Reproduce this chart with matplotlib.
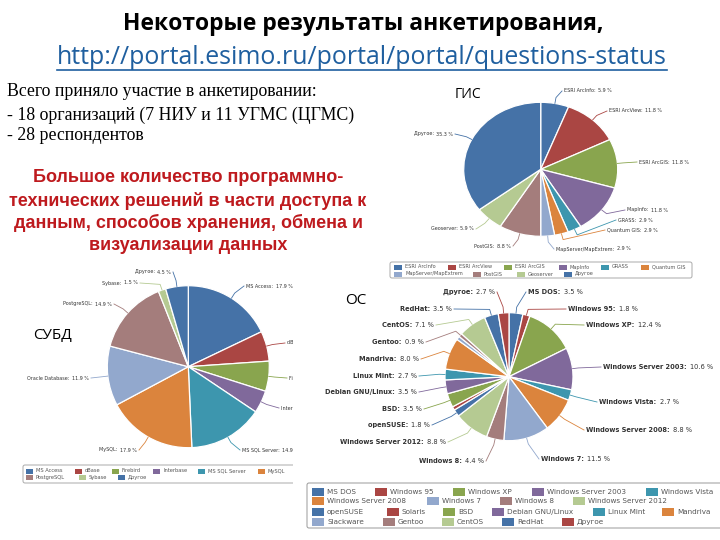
"""Survey results slide: three pie charts with legends and header text."""
import numpy as np
import matplotlib
matplotlib.use("Agg")
import matplotlib.pyplot as plt
from matplotlib.patches import FancyBboxPatch, Rectangle

COLORS = ["#4572A7", "#AA4643", "#89A54E", "#80699B", "#3D96AE",
          "#DB843D", "#92A8CD", "#A47D7C", "#B5CA92"]

# data
gis_names = ["ESRI ArcInfo", "ESRI ArcView", "ESRI ArcGIS", "MapInfo", "GRASS",
             "Quantum GIS", "MapServer/MapExtrem", "PostGIS", "Geoserver", "Другое"]
gis_values = [5.9, 11.8, 11.8, 11.8, 2.9, 2.9, 2.9, 8.8, 5.9, 35.3]

db_names = ["MS Access", "dBase", "Firebird", "Interbase", "MS SQL Server",
            "MySQL", "Oracle Database", "PostgreSQL", "Sybase", "Другое"]
db_values = [17.9, 6.0, 6.0, 4.5, 14.9, 17.9, 11.9, 14.9, 1.5, 4.5]

os_names = ["MS DOS", "Windows 95", "Windows XP", "Windows Server 2003", "Windows Vista",
            "Windows Server 2008", "Windows 7", "Windows 8", "Windows Server 2012",
            "openSUSE", "Solaris", "BSD", "Debian GNU/Linux", "Linux Mint", "Mandriva",
            "Slackware", "Gentoo", "CentOS", "RedHat", "Другое"]
os_values = [3.5, 1.8, 12.4, 10.6, 2.7, 8.8, 11.5, 4.4, 8.8, 1.8, 0.9, 3.5, 3.5,
             2.7, 8.0, 0.9, 0.9, 7.1, 3.5, 2.7]

# label anchors in slide pixels: (x, y, ha)
gis_labels = [(564, 91, "left"), (609, 111, "left"), (639, 162, "left"), (627, 210, "left"),
              (618, 220, "left"), (607, 230, "left"), (556, 249, "left"), (511, 246, "right"),
              (474, 229, "right"), (453, 134, "right")]
db_labels = [(246, 286, "left"), (287, 343, "left"), (289, 378, "left"), (281, 408, "left"),
             (242, 450, "left"), (137, 450, "right"), (89, 378, "right"), (112, 304, "right"),
             (138, 283, "right"), (171, 272, "right")]
os_labels = [(528, 292, "left"), (568, 309, "left"), (586, 325, "left"), (603, 367, "left"),
             (599, 402, "left"), (586, 430, "left"), (541, 459, "left"), (484, 461, "right"),
             (446, 442, "right"), (430, 425, "right"), None, (422, 409, "right"),
             (417, 392, "right"), (417, 376, "right"), (419, 359, "right"), None,
             (424, 342, "right"), (434, 325, "right"), (452, 309, "right"), (495, 292, "right")]

W, H = 720, 540
fig = plt.figure(figsize=(W / 100, H / 100), dpi=100, facecolor="white")
bg = fig.add_axes([0, 0, 1, 1], zorder=5)
bg.set_xlim(0, W)
bg.set_ylim(H, 0)
bg.axis("off")
bg.patch.set_alpha(0)
renderer = fig.canvas.get_renderer()


def rich_label(x, y, ha, name, value, size, bold_name, z):
    name_s, value_s = f"{name}: ", f"{value} %"
    weight = "bold" if bold_name else "normal"
    t_kw = dict(fontsize=size, va="center", color="#333333", zorder=z)
    if ha == "left":
        t = bg.text(x, y, name_s, ha="left", fontweight=weight, **t_kw)
        w = t.get_window_extent(renderer).width
        bg.text(x + w + 1, y, value_s, ha="left", **t_kw)
    else:
        t = bg.text(x, y, value_s, ha="right", **t_kw)
        w = t.get_window_extent(renderer).width
        bg.text(x - w - 1, y, name_s, ha="right", fontweight=weight, **t_kw)


def pie_chart(cx, cy, rx, ry, names, values, labels, size, bold_name=False, z=3):
    ax = fig.add_axes([(cx - rx) / W, 1 - (cy + ry) / H, 2 * rx / W, 2 * ry / H], zorder=1)
    colors = [COLORS[i % len(COLORS)] for i in range(len(values))]
    wedges, _ = ax.pie(values, colors=colors, startangle=90, counterclock=False,
                       wedgeprops=dict(edgecolor="white", linewidth=0.9))
    ax.set_aspect("auto")
    ax.set_xlim(-1, 1)
    ax.set_ylim(-1, 1)
    for wedge, name, value, label, color in zip(wedges, names, values, labels, colors):
        if label is None:
            continue
        x, y, ha = label
        mid = np.deg2rad((wedge.theta1 + wedge.theta2) / 2)
        ex, ey = cx + rx * np.cos(mid), cy - ry * np.sin(mid)
        kx, ky = cx + (rx + 6) * np.cos(mid), cy - (ry + 6) * np.sin(mid)
        end = x - 2 if ha == "left" else x + 2
        bg.plot([ex, kx, end], [ey, ky, y], color=color, lw=0.6, zorder=z)
        rich_label(x, y, ha, name, value, size, bold_name, z)


def legend(box, rows, names, size, sw=(10, 6)):
    x0, y0, x1, y1 = box
    bg.add_patch(FancyBboxPatch((x0, y0), x1 - x0, y1 - y0,
                                boxstyle="round,pad=0,rounding_size=2",
                                fc="white", ec="#aaaaaa", lw=0.7, zorder=1))
    i = 0
    for y, xs in rows:
        for x in xs:
            bg.add_patch(Rectangle((x, y - sw[1] / 2), sw[0], sw[1],
                                   fc=COLORS[i % len(COLORS)], ec="none", zorder=2))
            bg.text(x + sw[0] + 3, y, names[i], fontsize=size, va="center",
                    color="#555555", zorder=2)
            i += 1


# pies
pie_chart(540.7, 169.3, 77, 67, gis_names, gis_values, gis_labels, 3.5)
pie_chart(188.3, 366.7, 81, 81, db_names, db_values, db_labels, 3.5)
pie_chart(509, 376.7, 64, 64, os_names, os_values, os_labels, 4.8, bold_name=True, z=4)

# legends
legend((390, 262, 692, 278),
       [(267, [394, 448, 504, 559, 601, 641]), (274, [394, 473, 517, 564])],
       gis_names, 3.6, sw=(8, 5))
legend((23, 465, 300, 483),
       [(471, [26, 75, 112, 153, 198, 258, 300]), (477.5, [26, 79, 118])],
       db_names, 3.7, sw=(7, 5))

# the OS screenshot was pasted over the right edge of the DB one
bg.add_patch(Rectangle((293, 262), 67, 225, fc="white", ec="none", zorder=3.5))

os_box = (307, 483, 722, 528)
bg.add_patch(FancyBboxPatch((os_box[0], os_box[1]), os_box[2] - os_box[0], os_box[3] - os_box[1],
                            boxstyle="round,pad=0,rounding_size=2",
                            fc="white", ec="#999999", lw=0.7, zorder=3.6))
i = 0
os_rows = [(492, [312, 375, 453, 532, 646]), (501, [312, 427, 500, 573]),
           (512, [312, 387, 443, 492, 593, 662]), (522, [312, 383, 442, 502, 562])]
for y, xs in os_rows:
    for x in xs:
        bg.add_patch(Rectangle((x, y - 4), 12, 8, fc=COLORS[i % len(COLORS)], ec="none", zorder=3.7))
        bg.text(x + 15, y, os_names[i], fontsize=5.2, va="center", color="#555555", zorder=3.7)
        i += 1

# header
bg.text(363, 24, "Некоторые результаты анкетирования,", fontsize=16.5, fontweight="bold",
        family="Open Sans", ha="center", va="center", color="black", zorder=4)
bg.text(362, 57, "http://portal.esimo.ru/portal/portal/questions-status", fontsize=17.9,
        family="Open Sans", ha="center", va="center", color="#1F5F9F", zorder=4)
bg.plot([57, 667], [69.5, 69.5], color="#1F5F9F", lw=1.2, zorder=4)

# left text block
for y, s in [(92, "Всего приняло участие в анкетировании:"),
             (115, "- 18 организаций (7 НИУ и 11 УГМС (ЦГМС)"),
             (136, "- 28 респондентов")]:
    bg.text(7, y, s, fontsize=12.8, family="Liberation Serif", ha="left", va="center",
            color="black", zorder=4)

for y, s in [(178, "Большое количество программно-"),
             (201, "технических решений в части доступа к"),
             (223, "данным, способов хранения, обмена и"),
             (245, "визуализации данных")]:
    bg.text(188, y, s, fontsize=13, fontweight="bold", family="Liberation Sans",
            ha="center", va="center", color="#BE1A1E", zorder=4)

# chart captions
for x, y, s, size in [(468, 95, "ГИС", 10), (52, 335, "СУБД", 11), (356, 300, "ОС", 11)]:
    bg.text(x, y, s, fontsize=size, family="Open Sans", ha="center", va="center",
            color="black", zorder=4)

fig.savefig("out.png", dpi=100, facecolor="white")
